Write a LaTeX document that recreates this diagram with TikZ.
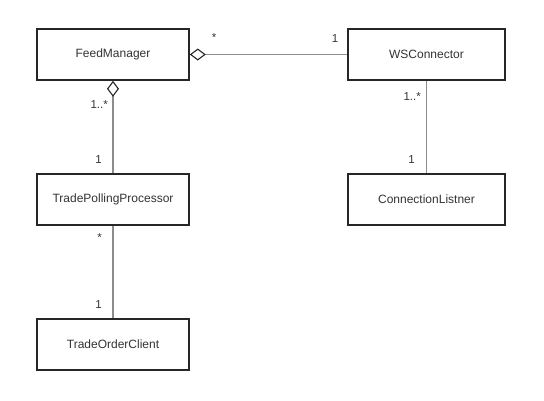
\documentclass[tikz,border=0pt]{standalone}
\usepackage{fontspec}
\setmainfont{Liberation Sans}
\usetikzlibrary{arrows.meta}
\definecolor{boxline}{HTML}{262626}
\definecolor{linkline}{HTML}{8C8C8C}
\definecolor{txt}{HTML}{333333}
\begin{document}
\begin{tikzpicture}[x=1pt,y=-1pt,
  classbox/.style={draw=boxline,line width=1.6pt,fill=white,minimum height=51pt,inner sep=0pt,
    font=\fontsize{12}{14}\selectfont,text=txt},
  link/.style={draw=linkline,line width=1.3pt},
  agg/.style={link,{Diamond[open,length=16pt,width=12pt,line width=1.1pt,color=boxline]}-},
  mult/.style={font=\fontsize{11.5}{13}\selectfont,text=txt,inner sep=0pt}]
\useasboundingbox (0,0) rectangle (544,400);

% classes
\node[classbox,minimum width=152pt] (fm)  at (113,54.5)  {FeedManager};
\node[classbox,minimum width=157pt] (ws)  at (426.5,54.5) {WSConnector};
\node[classbox,minimum width=152pt] (tpp) at (113,199.5) {TradePollingProcessor};
\node[classbox,minimum width=157pt] (cl)  at (426.5,199.5) {ConnectionListner};
\node[classbox,minimum width=152pt] (toc) at (113,344.5) {TradeOrderClient};

% associations
\draw[agg] (fm.east) -- (ws.west);
\draw[agg] (fm.south) -- (tpp.north);
\draw[link] (ws.south) -- (cl.north);
\draw[link] (tpp.south) -- (toc.north);

% multiplicities
\node[mult] (m1) at (214,38) {*};
\node[mult] (m2) at (335,39) {1};
\node[mult,anchor=east] (m3) at (108,105) {1..*};
\node[mult,anchor=east] (m4) at (102,160) {1};
\node[mult,anchor=east] (m5) at (421,97) {1..*};
\node[mult,anchor=east] (m6) at (415,160) {1};
\node[mult,anchor=east] (m7) at (102,238) {*};
\node[mult,anchor=east] (m8) at (102,305) {1};
\end{tikzpicture}
\end{document}
